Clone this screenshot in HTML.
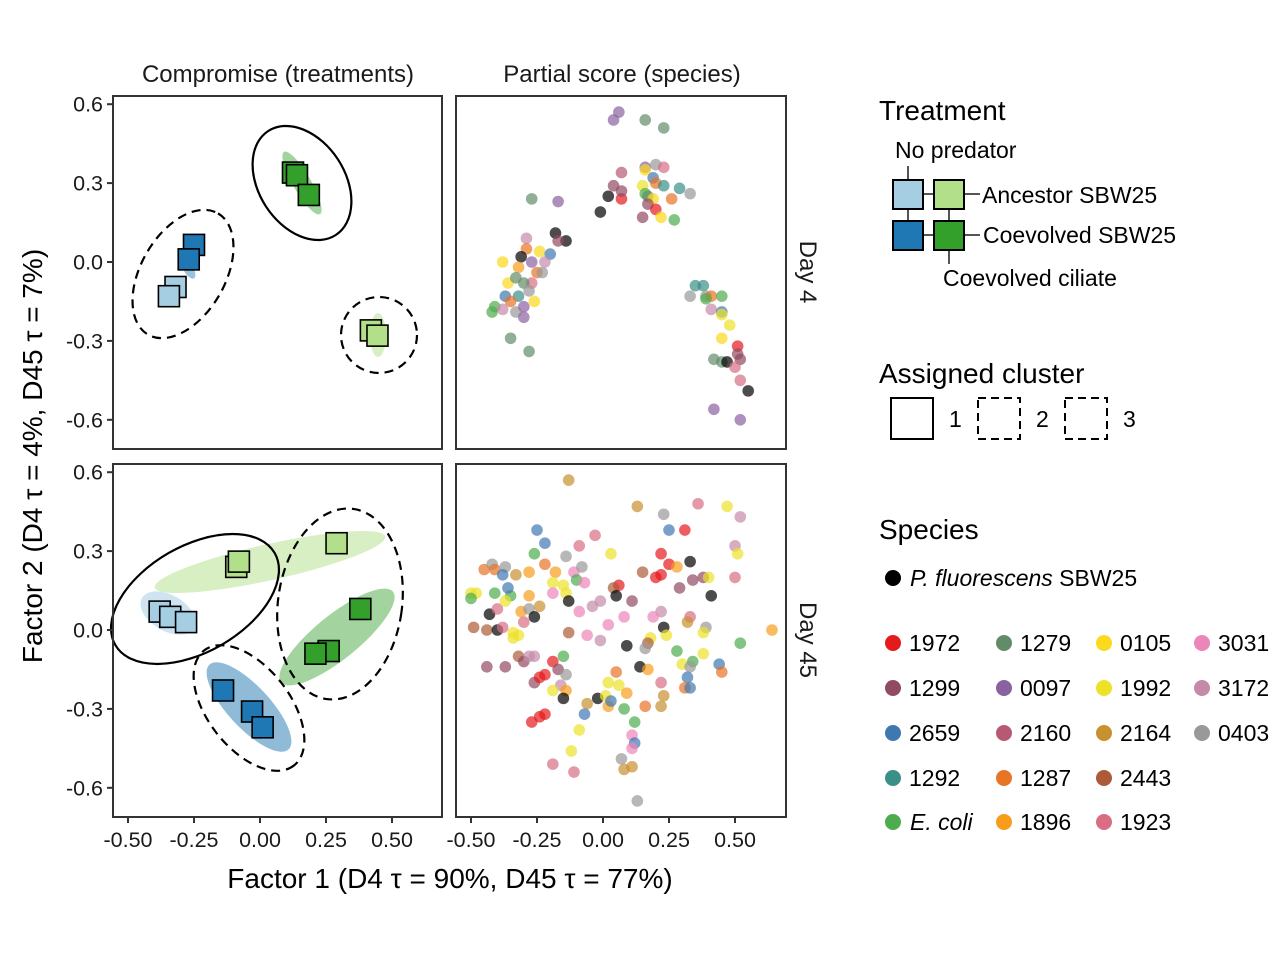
<!DOCTYPE html>
<html><head><meta charset="utf-8"><style>
body{margin:0;background:#fff;width:1280px;height:960px;overflow:hidden}
svg{font-family:"Liberation Sans",Arial,sans-serif}
</style></head><body>
<svg id="chart" width="1280" height="960" viewBox="0 0 1280 960">
<g id="g"></g>
</svg>
<script>
// ---- data ----
const speciesNames=["pf","1972","1299","2659","1292","ecoli","1279","0097","2160","1287","1896","0105","1992","2164","2443","1923","3031","3172","0403"];
const speciesColors=["#000000","#e41a1c","#914a63","#3f77b0","#3a8f88","#4dac4d","#628b6a","#8a62a0","#b55a72","#e87426","#f89c1c","#fcd91c","#ece22a","#c99030","#ac5a38","#d86d83","#ec85b8","#c58aa8","#999999"];
const xTicks=[-0.5,-0.25,0,0.25,0.5];
const xTickLabels=["-0.50","-0.25","0.00","0.25","0.50"];
const yTicks=[0.6,0.3,0,-0.3,-0.6];
const yTickLabels=["0.6","0.3","0.0","-0.3","-0.6"];
const treatColors=["#a6cee3","#b2df8a","#1f78b4","#33a02c"];
const d4TreatX=[0.125,0.14,0.185,-0.25,-0.27,-0.32,-0.345,0.42,0.445];
const d4TreatY=[0.34,0.33,0.255,0.065,0.01,-0.095,-0.13,-0.26,-0.28];
const d4TreatT=[3,3,3,2,2,0,0,1,1];
const d45TreatX=[-0.09,-0.08,0.29,-0.38,-0.34,-0.28,0.38,0.26,0.21,-0.14,-0.03,0.01];
const d45TreatY=[0.24,0.26,0.33,0.07,0.05,0.03,0.08,-0.08,-0.09,-0.23,-0.31,-0.37];
const d45TreatT=[1,1,1,0,0,0,3,3,3,2,2,2];
const d4X=[0.04,0.06,0.16,0.23,-0.27,-0.17,-0.01,0.02,0.07,0.07,0.04,0.07,0.16,0.16,0.20,0.23,0.19,0.20,0.23,0.29,0.33,0.15,0.16,0.17,0.19,0.26,0.17,0.20,0.15,0.22,0.27,
-0.18,-0.14,-0.17,-0.29,-0.29,-0.24,-0.20,-0.31,-0.38,-0.32,-0.27,-0.22,-0.25,-0.23,-0.27,-0.30,-0.36,-0.33,-0.28,-0.26,-0.32,-0.37,-0.35,-0.41,-0.42,-0.38,-0.33,-0.30,-0.30,-0.35,-0.28,
0.35,0.38,0.33,0.39,0.41,0.45,0.39,0.41,0.45,0.45,0.48,0.45,0.51,0.51,0.52,0.42,0.45,0.47,0.50,0.52,0.55,0.42,0.52];
const d4Y=[0.54,0.57,0.54,0.51,0.24,0.23,0.19,0.25,0.24,0.34,0.29,0.27,0.36,0.35,0.37,0.36,0.32,0.30,0.29,0.28,0.26,0.29,0.26,0.25,0.24,0.24,0.22,0.20,0.17,0.17,0.16,
0.11,0.08,0.08,0.09,0.05,0.04,0.03,0.02,0.00,-0.02,0.00,0.00,-0.04,-0.04,-0.08,-0.08,-0.08,-0.06,-0.11,-0.15,-0.13,-0.13,-0.15,-0.17,-0.19,-0.18,-0.19,-0.17,-0.21,-0.29,-0.34,
-0.09,-0.09,-0.13,-0.13,-0.13,-0.13,-0.14,-0.18,-0.19,-0.20,-0.24,-0.29,-0.32,-0.35,-0.37,-0.37,-0.38,-0.38,-0.40,-0.45,-0.49,-0.56,-0.60];
const d4S=["0097","0097","1279","1279","1279","0097","pf","pf","1972","2160","1299","1299","0097","0105","0403","1923","2659","1287","1292","1292","0403","1992","ecoli","1279","0105","1287","1299","1972","1299","0105","ecoli",
"pf","pf","1299","3172","1287","0105","2659","pf","0105","1896","0097","3172","1287","0403","1923","1279","0105","1279","0403","0105","1292","2659","1287","ecoli","ecoli","3172","0403","0097","0097","1279","1279",
"1292","1292","0403","0403","1287","ecoli","ecoli","3172","2659","1992","1992","0105","1972","1299","1299","1279","1279","pf","1923","1923","pf","0097","0097"];
const d45X=[-0.13,0.13,0.23,0.36,0.47,0.52,0.25,0.31,0.50,0.51,0.50,-0.25,-0.22,-0.26,-0.03,-0.09,-0.14,0.03,0.22,0.25,0.28,0.33,0.20,0.22,0.34,0.38,0.40,0.29,0.41,0.15,0.06,0.04,0.05,0.11,0.22,0.19,0.33,0.32,0.39,0.38,0.23,0.24,0.64,0.52,0.18,0.17,0.16,0.09,0.08,
0.28,0.30,0.34,0.33,0.38,0.14,0.17,0.05,0.32,0.31,0.33,0.44,0.45,0.22,0.23,0.22,0.16,0.02,0.06,0.09,0.08,0.12,0.11,0.12,0.11,0.07,0.08,0.11,0.13,-0.02,0.02,0.01,0.03,-0.06,-0.07,-0.09,-0.12,-0.19,-0.11,
-0.27,-0.24,-0.22,-0.26,-0.24,-0.22,-0.19,-0.17,-0.15,-0.14,-0.16,-0.14,-0.15,-0.19,-0.44,-0.37,-0.32,-0.30,-0.28,-0.26,-0.49,-0.44,-0.40,-0.38,-0.34,-0.34,-0.32,-0.43,-0.40,-0.30,-0.31,-0.28,-0.26,-0.24,-0.28,-0.35,-0.37,-0.36,-0.41,-0.50,-0.48,-0.50,
-0.45,-0.42,-0.41,-0.37,-0.38,-0.33,-0.28,-0.22,-0.18,-0.19,-0.15,-0.14,-0.19,-0.13,-0.11,-0.10,-0.07,-0.08,-0.09,-0.04,-0.01,-0.06,-0.01,0.02,-0.13];
const d45Y=[0.57,0.47,0.44,0.48,0.47,0.43,0.38,0.38,0.32,0.29,0.20,0.38,0.33,0.29,0.36,0.32,0.28,0.29,0.29,0.25,0.24,0.26,0.20,0.21,0.19,0.20,0.20,0.16,0.13,0.22,0.17,0.16,0.13,0.11,0.07,0.05,0.05,0.03,0.01,-0.01,0.01,-0.02,0.00,-0.05,-0.03,-0.05,-0.07,-0.06,0.05,
-0.08,-0.13,-0.12,-0.14,-0.09,-0.14,-0.15,-0.16,-0.18,-0.22,-0.22,-0.13,-0.16,-0.20,-0.25,-0.29,-0.29,-0.20,-0.21,-0.24,-0.30,-0.35,-0.40,-0.43,-0.45,-0.49,-0.53,-0.52,-0.65,-0.26,-0.29,-0.25,-0.27,-0.28,-0.32,-0.38,-0.46,-0.51,-0.54,
-0.35,-0.33,-0.32,-0.20,-0.18,-0.17,-0.12,-0.15,-0.10,-0.17,-0.21,-0.23,-0.26,-0.23,-0.14,-0.14,-0.10,-0.12,-0.10,-0.10,0.01,0.00,0.00,0.01,-0.01,-0.03,-0.02,0.06,0.08,0.03,0.07,0.08,0.05,0.09,0.13,0.13,0.11,0.16,0.14,0.14,0.14,0.12,
0.23,0.25,0.23,0.24,0.21,0.21,0.22,0.25,0.22,0.18,0.17,0.14,0.14,0.11,0.22,0.19,0.18,0.24,0.07,0.09,0.11,-0.02,-0.04,0.02,-0.01];
const d45S=["2164","2164","0403","1923","1992","3172","2659","1972","3172","1992","1923","2659","2659","ecoli","1923","1923","0403","1992","1972","1972","1896","pf","1972","1972","1299","1299","1992","1299","pf","2443","1972","2443","pf","1299","3172","3031","1923","2164","0403","1992","pf","1992","1896","ecoli","1992","2443","0403","pf","3031",
"ecoli","1992","ecoli","0403","1992","pf","1896","1287","2659","1287","2659","2659","1287","1923","2164","2164","1287","1992","1992","1896","ecoli","ecoli","3031","2659","3031","0403","2164","2164","0403","pf","1896","1992","2659","2164","2659","1992","1992","1923","1923",
"1972","1972","1972","1299","1972","1972","1972","1299","ecoli","0403","3172","1896","pf","1992","1299","1299","2443","1299","3172","3172","2443","2443","pf","1923","1992","1992","1992","pf","1923","1923","1896","0403","pf","2164","1896","ecoli","1992","2659","ecoli","1992","1992","ecoli",
"1287","0403","1287","0403","2659","2164","1896","1287","1896","1992","1992","1992","3031","pf","3031","ecoli","3031","0403","3031","3172","3172","3031","3172","3031","2443"];

// ---- layout ----
const NS="http://www.w3.org/2000/svg";
const g=document.getElementById('g');
function el(tag,attrs,parent){const e=document.createElementNS(NS,tag);for(const k in attrs)e.setAttribute(k,attrs[k]);(parent||g).appendChild(e);return e;}
const panels={
 tl:{x0:113,x1:442,y0:96,y1:449,cx:260,cy:262},
 tr:{x0:456,x1:786,y0:96,y1:449,cx:603,cy:262},
 bl:{x0:113,x1:442,y0:464,y1:817,cx:260,cy:630},
 br:{x0:456,x1:786,y0:464,y1:817,cx:603,cy:630}};
const XS=264, YS=263;
function sx(p,v){return p.cx+v*XS;}
function sy(p,v){return p.cy-v*YS;}

for(const k in panels){const p=panels[k];
 const r=el('rect',{x:p.x0,y:p.y0,width:p.x1-p.x0,height:p.y1-p.y0,fill:'#fff'});
 
 
}
function ell(cx,cy,rx,ry,ang,attrs,name){const e=el('ellipse',Object.assign({cx:cx,cy:cy,rx:rx,ry:ry,transform:`rotate(${ang} ${cx} ${cy})`},attrs));
 
 }
ell(302,183,36,9,60,{fill:'#33a02c','fill-opacity':0.45},'shade-d4-coevolved-ciliate');
ell(188,268,12,5,60,{fill:'#1f78b4','fill-opacity':0.45},'shade-d4-coevolved-nopred');
ell(378,335,8,22,0,{fill:'#b2df8a','fill-opacity':0.5},'shade-d4-ancestor-ciliate');
ell(270,562,118,18,-12.5,{fill:'#b2df8a','fill-opacity':0.5},'shade-d45-ancestor-ciliate');
ell(168,613,30,18,30,{fill:'#a6cee3','fill-opacity':0.55},'shade-d45-ancestor-nopred');
ell(337,637,72,22,-39,{fill:'#33a02c','fill-opacity':0.45},'shade-d45-coevolved-ciliate');
ell(249,707,58,21,47,{fill:'#1f78b4','fill-opacity':0.5},'shade-d45-coevolved-nopred');
const ol={fill:'none',stroke:'#000','stroke-width':2.2};
const od={fill:'none',stroke:'#000','stroke-width':2.2,'stroke-dasharray':'9 6'};
ell(302,183,62,43,57,ol,'cluster-1-d4');
ell(183,274,70,42,-60,od,'cluster-2-d4');
ell(379,335,38,38,0,od,'cluster-3-d4');
ell(195,599,92,53,-30,ol,'cluster-1-d45');
ell(340,604,62,96,8,od,'cluster-2-d45');
ell(249,708,73,41,52,od,'cluster-3-d45');

function squares(p,xs,ys,ts,tag){for(let i=0;i<xs.length;i++){
 const r=el('rect',{x:sx(p,xs[i])-10.5,y:sy(p,ys[i])-10.5,width:21,height:21,fill:treatColors[ts[i]],stroke:'#000','stroke-width':1.6});
 
 }}
squares(panels.tl,d4TreatX,d4TreatY,d4TreatT,'d4');
squares(panels.bl,d45TreatX,d45TreatY,d45TreatT,'d45');
function points(p,xs,ys,ss,tag){for(let i=0;i<xs.length;i++){
 const c=el('circle',{cx:sx(p,xs[i]),cy:sy(p,ys[i]),r:5.8,fill:speciesColors[speciesNames.indexOf(ss[i])],'fill-opacity':0.7});
 
 }}
points(panels.tr,d4X,d4Y,d4S,'d4');
points(panels.br,d45X,d45Y,d45S,'d45');

for(const k in panels){const p=panels[k];
 const b=el('rect',{x:p.x0,y:p.y0,width:p.x1-p.x0,height:p.y1-p.y0,fill:'none',stroke:'#333','stroke-width':2});
 
 
 if(k==='tl'||k==='bl'){yTicks.forEach((v,i)=>{const y=sy(p,v);
  const t=el('line',{x1:p.x0-6,x2:p.x0,y1:y,y2:y,stroke:'#333','stroke-width':2});
  
  
  const tx=el('text',{x:p.x0-10,y:y+7.5,'text-anchor':'end','font-size':21.5,fill:'#1a1a1a'});tx.textContent=yTickLabels[i];
  
  });}
 if(k==='bl'||k==='br'){xTicks.forEach((v,i)=>{const x=sx(p,v);
  const t=el('line',{x1:x,x2:x,y1:p.y1,y2:p.y1+6,stroke:'#333','stroke-width':2});
  
  
  const tx=el('text',{x:x,y:p.y1+30,'text-anchor':'middle','font-size':21.5,fill:'#1a1a1a'});tx.textContent=xTickLabels[i];
  
  });}
}
</script>
<svg width="1280" height="960" style="position:absolute;left:0;top:0">
<text x="278" y="82" text-anchor="middle" font-size="24" fill="#1a1a1a">Compromise (treatments)</text>
<text x="622" y="82" text-anchor="middle" font-size="24" fill="#1a1a1a">Partial score (species)</text>
<text transform="translate(800,272) rotate(90)" text-anchor="middle" font-size="24" fill="#1a1a1a">Day 4</text>
<text transform="translate(800,640) rotate(90)" text-anchor="middle" font-size="24" fill="#1a1a1a">Day 45</text>
<text x="450" y="888" text-anchor="middle" font-size="28" fill="#000">Factor 1 (D4 τ = 90%, D45 τ = 77%)</text>
<text transform="translate(42,456) rotate(-90)" text-anchor="middle" font-size="28" fill="#000">Factor 2 (D4 τ = 4%, D45 τ = 7%)</text>

<g>
<text x="879" y="120" font-size="28">Treatment</text>
<text x="895" y="158" font-size="23">No predator</text>
<g stroke="#555" stroke-width="2">
<line x1="908" y1="166" x2="908" y2="250"/><line x1="949" y1="194" x2="949" y2="264"/>
<line x1="922" y1="194" x2="980" y2="194"/><line x1="922" y1="235" x2="980" y2="235"/>
</g>
<rect x="893" y="180" width="30" height="29" fill="#a6cee3" stroke="#000" stroke-width="2"/>
<rect x="934" y="180" width="30" height="29" fill="#b2df8a" stroke="#000" stroke-width="2"/>
<rect x="893" y="221" width="30" height="29" fill="#1f78b4" stroke="#000" stroke-width="2"/>
<rect x="934" y="221" width="30" height="29" fill="#33a02c" stroke="#000" stroke-width="2"/>
<text x="982" y="203" font-size="23">Ancestor SBW25</text>
<text x="983" y="243" font-size="23">Coevolved SBW25</text>
<text x="943" y="286" font-size="23">Coevolved ciliate</text>
</g>

<g>
<text x="879" y="383" font-size="28">Assigned cluster</text>
<rect x="891" y="398" width="42" height="41" fill="none" stroke="#000" stroke-width="2"/>
<text x="949" y="427" font-size="23">1</text>
<rect x="978" y="398" width="42" height="41" fill="none" stroke="#000" stroke-width="2" stroke-dasharray="8 5"/>
<text x="1036" y="427" font-size="23">2</text>
<rect x="1065" y="398" width="42" height="41" fill="none" stroke="#000" stroke-width="2" stroke-dasharray="8 5"/>
<text x="1123" y="427" font-size="23">3</text>
</g>

<g font-size="23">
<text x="879" y="539" font-size="28">Species</text>
<circle cx="893" cy="578" r="8" fill="#000"/>
<text x="910" y="586"><tspan font-style="italic">P. fluorescens</tspan> SBW25</text>
<circle cx="893" cy="643" r="8" fill="#e41a1c"/><text x="909" y="651">1972</text>
<circle cx="893" cy="688" r="8" fill="#914a63"/><text x="909" y="696">1299</text>
<circle cx="893" cy="733" r="8" fill="#3f77b0"/><text x="909" y="741">2659</text>
<circle cx="893" cy="778" r="8" fill="#3a8f88"/><text x="909" y="786">1292</text>
<circle cx="893" cy="822" r="8" fill="#4dac4d"/><text x="910" y="830" font-style="italic">E. coli</text>
<circle cx="1004" cy="643" r="8" fill="#628b6a"/><text x="1020" y="651">1279</text>
<circle cx="1004" cy="688" r="8" fill="#8a62a0"/><text x="1020" y="696">0097</text>
<circle cx="1004" cy="733" r="8" fill="#b55a72"/><text x="1020" y="741">2160</text>
<circle cx="1004" cy="778" r="8" fill="#e87426"/><text x="1020" y="786">1287</text>
<circle cx="1004" cy="822" r="8" fill="#f89c1c"/><text x="1020" y="830">1896</text>
<circle cx="1104" cy="643" r="8" fill="#fcd91c"/><text x="1120" y="651">0105</text>
<circle cx="1104" cy="688" r="8" fill="#ece22a"/><text x="1120" y="696">1992</text>
<circle cx="1104" cy="733" r="8" fill="#c99030"/><text x="1120" y="741">2164</text>
<circle cx="1104" cy="778" r="8" fill="#ac5a38"/><text x="1120" y="786">2443</text>
<circle cx="1104" cy="822" r="8" fill="#d86d83"/><text x="1120" y="830">1923</text>
<circle cx="1202" cy="643" r="8" fill="#ec85b8"/><text x="1218" y="651">3031</text>
<circle cx="1202" cy="688" r="8" fill="#c58aa8"/><text x="1218" y="696">3172</text>
<circle cx="1202" cy="733" r="8" fill="#999999"/><text x="1218" y="741">0403</text>
</g>
</svg>
</body></html>
